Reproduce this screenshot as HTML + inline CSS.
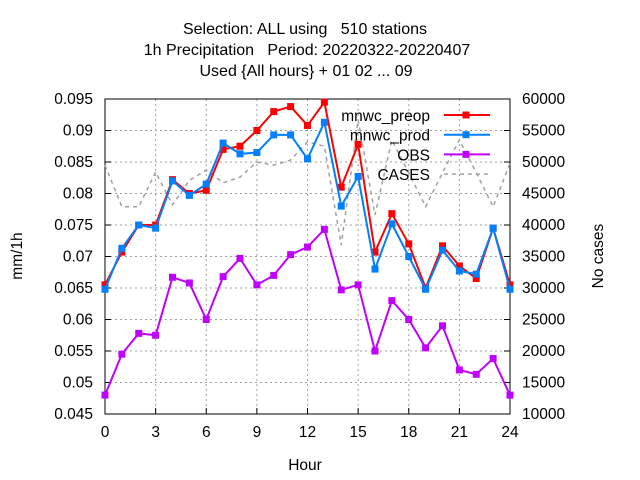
<!DOCTYPE html>
<html><head><meta charset="utf-8"><style>
body{margin:0;background:#fff}
svg{display:block;font-family:"Liberation Sans",sans-serif;font-size:15.5px}
</style></head><body>
<svg id="c" width="640" height="480">
<g text-anchor="middle" font-size="16">
<text x="305" y="34" style="white-space:pre">Selection: ALL using   510 stations</text>
<text x="307" y="55" style="white-space:pre">1h Precipitation   Period: 20220322-20220407</text>
<text x="306" y="76">Used {All hours} + 01 02 ... 09</text>
</g>
<g id="grid"></g>
<g id="axes"></g>
<g id="series"></g>
<text x="305" y="470" text-anchor="middle">Hour</text>
<text transform="translate(22,256) rotate(-90)" text-anchor="middle">mm/1h</text>
<text transform="translate(603,256) rotate(-90)" text-anchor="middle">No cases</text>
<g id="legend"></g>
</svg>
<script>
const hours=[0,1,2,3,4,5,6,7,8,9,10,11,12,13,14,15,16,17,18,19,20,21,22,23,24];
const preop=[0.0655,0.0707,0.075,0.075,0.0822,0.080,0.0805,0.087,0.0875,0.090,0.093,0.0938,0.0908,0.0945,0.081,0.0878,0.0707,0.0768,0.072,0.065,0.0717,0.0685,0.0665,0.0745,0.0655];
const prod=[0.0648,0.0713,0.075,0.0745,0.082,0.0797,0.0815,0.088,0.0863,0.0865,0.0893,0.0893,0.0855,0.0913,0.078,0.0827,0.068,0.0752,0.070,0.0648,0.071,0.0677,0.0672,0.0745,0.0648];
const obs=[0.048,0.0545,0.0578,0.0575,0.0667,0.0658,0.060,0.0668,0.0697,0.0655,0.067,0.0703,0.0715,0.0743,0.0647,0.0655,0.055,0.063,0.060,0.0555,0.059,0.052,0.0513,0.0538,0.048];
const cases=[49500,42900,42900,48400,43200,47100,48700,46700,47600,50000,49500,50300,53200,52500,36800,56700,41600,53500,48300,42900,48300,53500,48300,42900,49800];
const xTicks=[0,3,6,9,12,15,18,21,24];
const yTicks=[0.045,0.05,0.055,0.06,0.065,0.07,0.075,0.08,0.085,0.09,0.095];
const y2Ticks=[10000,15000,20000,25000,30000,35000,40000,45000,50000,55000,60000];
const L=105,R=510,T=99,B=414;
const X=h=>L+(h-0)/24*(R-L);
const Y=v=>B-(v-0.045)/0.05*(B-T);
const Y2=v=>B-(v-10000)/50000*(B-T);
const NS="http://www.w3.org/2000/svg";
function mk(tag,at,parent){const e=document.createElementNS(NS,tag);for(const k in at)e.setAttribute(k,at[k]);parent.appendChild(e);return e;}
const grid=document.getElementById('grid'),axes=document.getElementById('axes'),series=document.getElementById('series'),legend=document.getElementById('legend');
xTicks.forEach(t=>{
 if(t>0&&t<24){const g=mk('line',{x1:X(t),x2:X(t),y1:T,y2:B,stroke:'#a0a0a0','stroke-dasharray':'2,3'},grid);
 
 }
 const tk=mk('line',{x1:X(t),x2:X(t),y1:B,y2:B-6,stroke:'#000'},axes);
 
 
 const tx=mk('text',{x:X(t),y:B+23,'text-anchor':'middle'},axes);tx.textContent=t;
 
 
});
yTicks.forEach(t=>{
 const y=Y(t);
 if(t>0.0451&&t<0.0949){const g=mk('line',{x1:L,x2:R,y1:y,y2:y,stroke:'#a0a0a0','stroke-dasharray':'2,3'},grid);
 
 }
 const tk=mk('line',{x1:L,x2:L+6,y1:y,y2:y,stroke:'#000'},axes);
 
 
 const tx=mk('text',{x:L-12,y:y+5,'text-anchor':'end'},axes);tx.textContent=String(+t.toFixed(3));
 
 
});
y2Ticks.forEach(t=>{
 const y=Y2(t);
 const tk=mk('line',{x1:R,x2:R-6,y1:y,y2:y,stroke:'#000'},axes);
 
 
 const tx=mk('text',{x:R+12,y:y+5,'text-anchor':'start'},axes);tx.textContent=t;
 
 
});
const frame=mk('rect',{x:L,y:T,width:R-L,height:B-T,fill:'none',stroke:'#000'},axes);


function line(vals,yf,color,dash,marks,name){
 const pts=vals.map((v,i)=>X(hours[i])+','+yf(v)).join(' ');
 const pl=mk('polyline',{points:pts,fill:'none',stroke:color,'stroke-width':dash?1.5:2,'stroke-dasharray':dash||'none'},series);
 
 
 if(marks)vals.forEach((v,i)=>{
  const m=mk('rect',{x:X(hours[i])-3.5,y:yf(v)-3.5,width:7,height:7,fill:color},series);
  
  
 });
}
line(cases,Y2,'#a0a0a0','4,4',false,'cases');
line(preop,Y,'#ff0000',null,true,'mnwc-preop');
line(prod,Y,'#0080ff',null,true,'mnwc-prod');
line(obs,Y,'#c000ff',null,true,'obs');
const leg=[['mnwc_preop','#ff0000',1],['mnwc_prod','#0080ff',1],['OBS','#c000ff',1],['CASES','#a0a0a0',0]];
leg.forEach((e,i)=>{
 const y=115+i*19.7;
 const g=mk('g',{},legend);
 
 
 const tx=mk('text',{x:430,y:y+6,'text-anchor':'end'},g);tx.textContent=e[0];
 if(e[2]){mk('line',{x1:444,x2:490,y1:y,y2:y,stroke:e[1],'stroke-width':2},g);
 mk('rect',{x:462.5,y:y-3.5,width:7,height:7,fill:e[1]},g);}
 else mk('line',{x1:444,x2:490,y1:y,y2:y,stroke:e[1],'stroke-width':1.5,'stroke-dasharray':'4,4'},g);
});
</script>
</body></html>
